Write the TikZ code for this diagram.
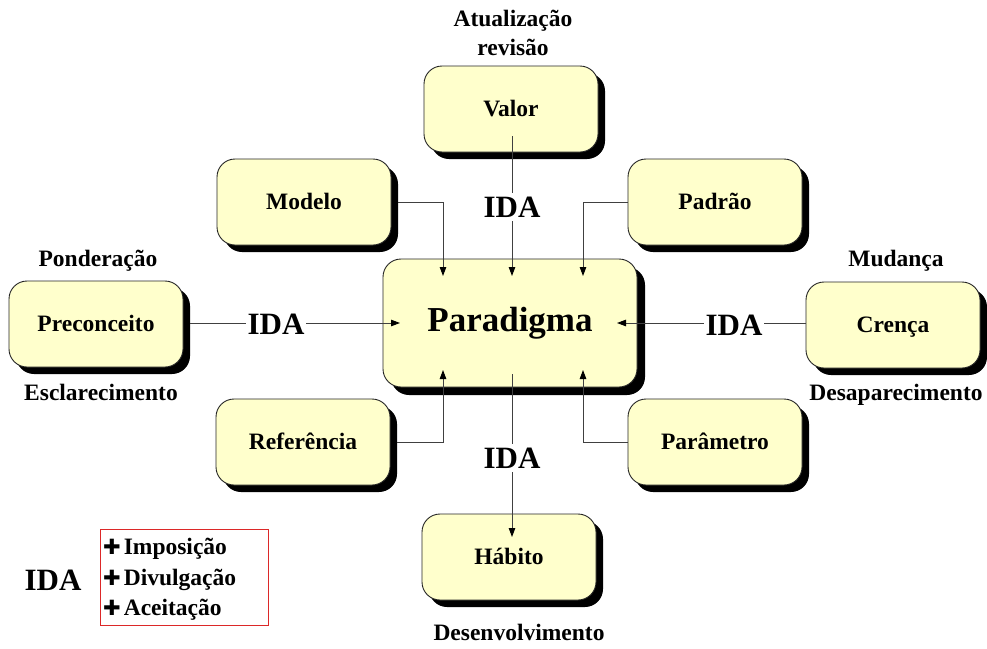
\documentclass[tikz,border=0pt]{standalone}
\usepackage{fontspec}
\setmainfont{Liberation Serif}
\newfontfamily\dingfont{DejaVu Sans}
\usetikzlibrary{shadows,arrows.meta}
\definecolor{boxfill}{RGB}{255,255,204}
\definecolor{legendred}{RGB}{220,40,40}
\newcommand{\keymark}{{\dingfont\fontsize{21}{24}\selectfont ✚}\hspace{3pt}}
\begin{document}
\begin{tikzpicture}[x=1pt,y=-1pt,
  boxbase/.style={draw=black!85, line width=0.9pt, fill=boxfill, rounded corners=18pt,
    align=center, inner sep=0pt},
  concept/.style={boxbase, minimum width=174pt, minimum height=86pt,
    text height=15.5pt, text depth=0pt,
    font=\fontsize{23.5}{28}\selectfont\bfseries,
    drop shadow={shadow xshift=7pt, shadow yshift=-7pt, fill=black, opacity=1}},
  core/.style={boxbase, minimum width=254pt, minimum height=128pt,
    font=\fontsize{35}{40}\selectfont\bfseries,
    drop shadow={shadow xshift=8pt, shadow yshift=-8pt, fill=black, opacity=1}},
  link/.style={draw=black!75, line width=0.9pt,
    -{Triangle[length=9pt,width=6.5pt,color=black]}},
  ida/.style={fill=white, inner xsep=2pt, inner ysep=4pt,
    font=\fontsize{31}{36}\selectfont\bfseries},
  caption/.style={anchor=base, inner sep=0pt,
    font=\fontsize{23.5}{28}\selectfont\bfseries},
  item/.style={anchor=base west, inner sep=0pt,
    font=\fontsize{23.5}{28}\selectfont\bfseries}
]
\useasboundingbox (0,0) rectangle (987,648);

% concept boxes
\node[concept] (valor)  at (511,109) {Valor};
\node[concept] (modelo) at (304,202) {Modelo};
\node[concept] (padrao) at (715,202) {Padrão};
\node[concept] (precon) at (96,324)  {Preconceito};
\node[concept] (crenca) at (893,325) {Crença};
\node[concept] (refer)  at (303,442) {Referência};
\node[concept] (param)  at (715,442) {Parâmetro};
\node[concept] (habito) at (509,557) {Hábito};
\node[core]    (para)   at (510,323) {Paradigma};

% arrow ends inside the central box
\coordinate (vstart) at (512,136);
\coordinate (tipTL) at (443,276);
\coordinate (tipTC) at (512,276);
\coordinate (tipTR) at (583,276);
\coordinate (tipL)  at (400,323);
\coordinate (tipR)  at (617,323);
\coordinate (tipBL) at (443,370);
\coordinate (tipBR) at (583,370);
\coordinate (pstart) at (512,374);
\coordinate (htip)  at (512,537);

% connectors
\draw[link] (vstart) -- (tipTC);
\draw[link] ([xshift=7pt]modelo.east) -| (tipTL);
\draw[link] (padrao.west) -| (tipTR);
\draw[link] ([xshift=7pt]precon.east |- tipL) -- (tipL);
\draw[link] (crenca.west |- tipR) -- (tipR);
\draw[link] ([xshift=7pt]refer.east) -| (tipBL);
\draw[link] (param.west) -| (tipBR);
\draw[link] (pstart) -- (htip);

% IDA labels on the connectors
\node[ida] (idaT) at (512,207) {IDA};
\node[ida] (idaL) at (276,324) {IDA};
\node[ida] (idaR) at (734,325) {IDA};
\node[ida] (idaB) at (512,458) {IDA};

% captions around the boxes
\node[caption] (c1) at (513,26)  {Atualização};
\node[caption] (c2) at (513,55)  {revisão};
\node[caption] (c3) at (98,266)  {Ponderação};
\node[caption] (c4) at (101,400) {Esclarecimento};
\node[caption] (c5) at (896,266) {Mudança};
\node[caption] (c6) at (896,400) {Desaparecimento};
\node[caption] (c7) at (519,640) {Desenvolvimento};

% legend
\node[font=\fontsize{31}{36}\selectfont\bfseries, inner sep=0pt] (idaKey) at (53,580) {IDA};
\draw[legendred, line width=0.9pt] (100,529) rectangle (268,625);
\node[item] (l1) at (103,554) {\keymark Imposição};
\node[item] (l2) at (103,585) {\keymark Divulgação};
\node[item] (l3) at (103,615) {\keymark Aceitação};
\end{tikzpicture}
\end{document}
